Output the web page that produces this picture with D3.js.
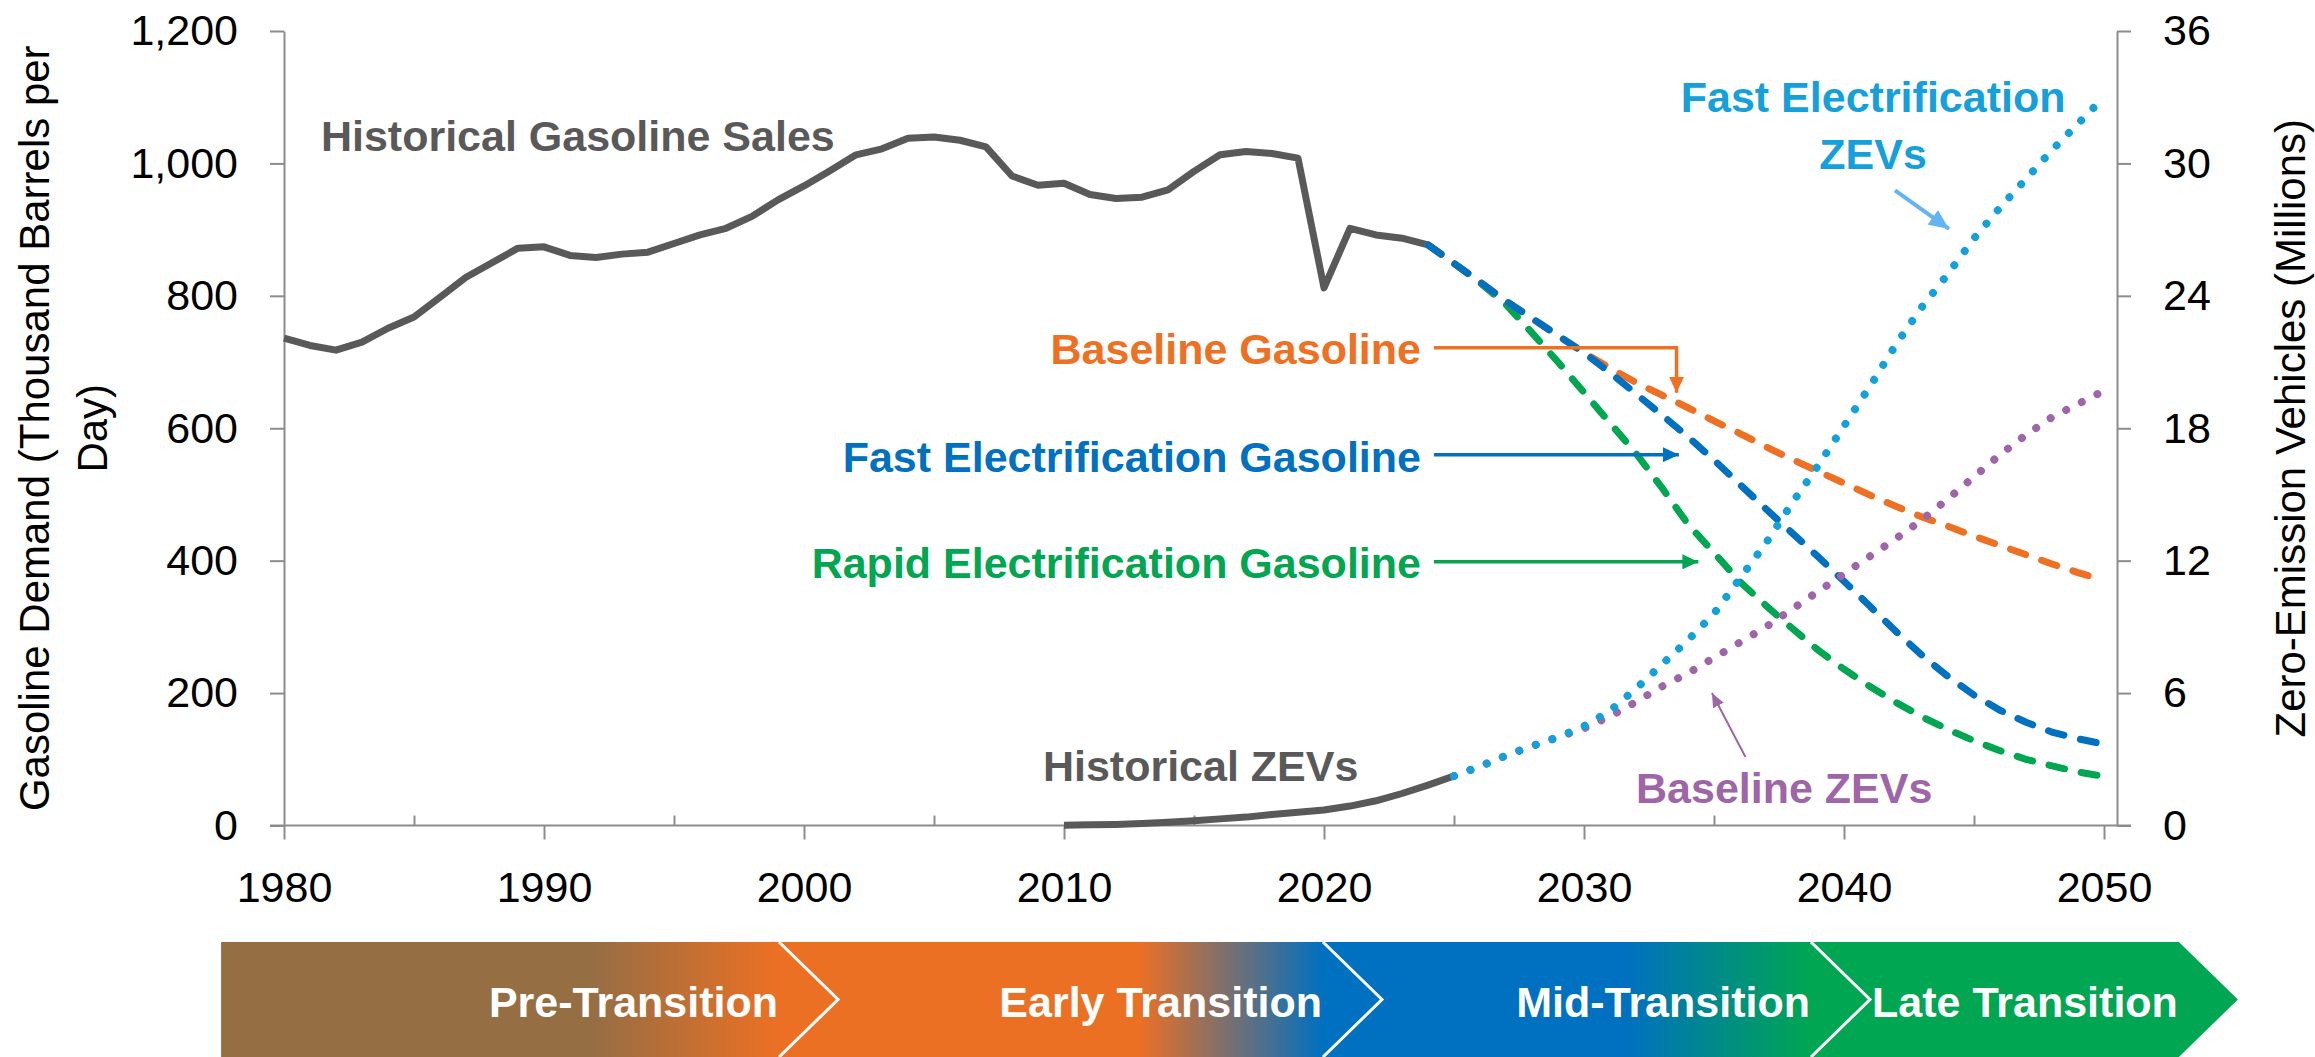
<!DOCTYPE html>
<html>
<head>
<meta charset="utf-8">
<script src="https://cdn.jsdelivr.net/npm/d3@7"></script>
<style>
  body { margin: 0; background: #fff; }
  text { font-family: "Liberation Sans", Arial, sans-serif; }
</style>
</head>
<body>
<svg id="chart" width="2315" height="1057"></svg>
<script>
// historical gasoline sales, thousand barrels per day (1980-2024)
const histYears = d3.range(1980, 2025);
const histGasoline = [736, 725, 718, 730, 751, 768, 798, 828, 850, 872,
  874, 861, 858, 863, 866, 879, 892, 902, 920, 945,
  966, 989, 1013, 1022, 1038, 1040, 1035, 1025, 981, 967,
  970, 953, 947, 949, 960, 988, 1013, 1018, 1015, 1008,
  812, 902, 892, 887, 877];

// gasoline scenarios (2024-2050)
const projYears = d3.range(2024, 2051);
const baselineGasoline = [877, 849, 821, 792, 766, 740, 714, 691, 669, 650,
  631, 611, 592, 572, 553, 535, 517, 499, 482, 466,
  452, 437, 423, 409, 395, 382, 370];
const fastGasoline = [877, 849, 821, 792, 766, 740, 714, 684, 652, 620,
  587, 552, 515, 478, 442, 406, 369, 331, 293, 257,
  225, 197, 174, 156, 141, 131, 123];
const rapidGasoline = [877, 849, 820, 787, 744, 700, 654, 608, 562, 510,
  455, 412, 368, 332, 298, 265, 236, 210, 186, 164,
  145, 128, 113, 100, 90, 81, 74];

// zero emission vehicles, millions
const histZevYears = d3.range(2010, 2026);
const histZevs = [0.01, 0.03, 0.05, 0.09, 0.15, 0.22, 0.3, 0.38, 0.5, 0.6,
  0.7, 0.88, 1.12, 1.45, 1.83, 2.24];
const zevYears = d3.range(2025, 2051);
const fastZevs = [2.24, 2.68, 3.17, 3.6, 4.0, 4.5, 5.2, 6.2, 7.3, 8.4,
  9.6, 11.2, 12.8, 14.6, 16.3, 18.1, 19.9, 21.8, 23.5, 25.0,
  26.6, 28.0, 29.3, 30.6, 31.8, 33.0];
const baselineZevs = [2.24, 2.68, 3.17, 3.6, 4.0, 4.4, 4.95, 5.6, 6.3, 6.9,
  7.6, 8.3, 9.0, 9.8, 10.6, 11.4, 12.2, 13.0, 13.85, 14.8,
  15.8, 16.8, 17.7, 18.5, 19.1, 19.7];

// axis ticks
const leftTicks = [0, 200, 400, 600, 800, 1000, 1200];
const rightTicks = [0, 6, 12, 18, 24, 30, 36];
const majorYears = [1980, 1990, 2000, 2010, 2020, 2030, 2040, 2050];
const minorYears = [1985, 1995, 2005, 2015, 2025, 2035, 2045];

// transition phases along the bottom (boundaries in years)
const phases = ["Pre-Transition", "Early Transition", "Mid-Transition", "Late Transition"];
const phaseBounds = [1977.58, 1999.04, 2019.96, 2038.73, 2052.88];
const phaseColors = ["#966E44", "#EC7023", "#0070C0", "#00A651"];

const gray = "#595959", orange = "#EE7023", blue = "#0070C0", green = "#00A650",
  lightBlue = "#14A0DB", purple = "#9E65A8", axisGray = "#8C8C8C";

const svg = d3.select("#chart");

const x = d3.scaleLinear().domain([1980, 2050.5]).range([284, 2117]);
const yL = d3.scaleLinear().domain([0, 1200]).range([825.5, 31]);
const yR = d3.scaleLinear().domain([0, 36]).range([825.5, 31]);

// ---- axes
const axisG = svg.append("g");

const left = axisG.append("g")
  .attr("transform", `translate(${x(1980)},0)`)
  .call(d3.axisLeft(yL).tickValues(leftTicks).tickFormat(d3.format(","))
    .tickSize(14).tickSizeOuter(0).tickPadding(32));

const right = axisG.append("g")
  .attr("transform", `translate(${x.range()[1]},0)`)
  .call(d3.axisRight(yR).tickValues(rightTicks).tickSize(14).tickSizeOuter(0).tickPadding(32));

const bottom = axisG.append("g")
  .attr("transform", `translate(0,${yL(0)})`)
  .call(d3.axisBottom(x).tickValues(majorYears).tickFormat(d3.format("d"))
    .tickSize(14).tickSizeOuter(0).tickPadding(32));
bottom.select(".domain").remove();

const minor = axisG.append("g")
  .attr("transform", `translate(0,${yL(0)})`)
  .call(d3.axisBottom(x).tickValues(minorYears).tickFormat("").tickSize(-10));
minor.select(".domain").remove();

axisG.append("line")
  .attr("x1", x(1980) - 14).attr("x2", x.range()[1] + 14)
  .attr("y1", yL(0)).attr("y2", yL(0));

axisG.selectAll("path.domain, line")
  .attr("stroke", axisGray).attr("stroke-width", 2);
axisG.selectAll("text")
  .attr("fill", "#000").style("font-size", "43px")
  .style("font-family", "'Liberation Sans', Arial, sans-serif");

// axis titles
const lt = svg.append("g").attr("transform", `translate(0,${(yL(0) + yL(1200)) / 2}) rotate(-90)`);
lt.append("text").attr("y", 49).attr("text-anchor", "middle")
  .style("font-size", "42px").text("Gasoline Demand (Thousand Barrels per");
lt.append("text").attr("y", 107).attr("text-anchor", "middle")
  .style("font-size", "42px").text("Day)");
svg.append("g").attr("transform", `translate(0,${(yR(0) + yR(36)) / 2}) rotate(-90)`)
  .append("text").attr("y", 2305).attr("text-anchor", "middle")
  .style("font-size", "42px").text("Zero-Emission Vehicles (Millions)");

// ---- series
const plot = svg.append("g");
const lineL = d3.line().x(d => x(d[0])).y(d => yL(d[1]));
const lineR = d3.line().x(d => x(d[0])).y(d => yR(d[1]));

plot.append("path").datum(d3.zip(histYears, histGasoline))
  .attr("d", lineL).attr("fill", "none").attr("stroke", gray)
  .attr("stroke-width", 7).attr("stroke-linejoin", "round");

[[rapidGasoline, green], [baselineGasoline, orange], [fastGasoline, blue]].forEach(([vals, c]) => {
  plot.append("path").datum(d3.zip(projYears, vals))
    .attr("d", lineL).attr("fill", "none").attr("stroke", c)
    .attr("stroke-width", 7).attr("stroke-linecap", "round")
    .attr("stroke-dasharray", "16 17");
});

plot.append("path").datum(d3.zip(histZevYears, histZevs))
  .attr("d", lineR).attr("fill", "none").attr("stroke", gray)
  .attr("stroke-width", 7).attr("stroke-linejoin", "round");

[[baselineZevs, purple], [fastZevs, lightBlue]].forEach(([vals, c]) => {
  plot.append("path").datum(d3.zip(zevYears, vals))
    .attr("d", lineR).attr("fill", "none").attr("stroke", c)
    .attr("stroke-width", 8).attr("stroke-linecap", "round")
    .attr("stroke-dasharray", "0.01 17.5");
});

// ---- annotations (positions in data units)
const defs = svg.append("defs");
function marker(id, c, w, h) {
  defs.append("marker").attr("id", id)
    .attr("markerUnits", "userSpaceOnUse")
    .attr("viewBox", `0 0 ${w} ${h}`)
    .attr("markerWidth", w).attr("markerHeight", h)
    .attr("refX", w).attr("refY", h / 2).attr("orient", "auto")
    .append("path").attr("d", `M0,0L${w},${h / 2}L0,${h}Z`).attr("fill", c);
}
marker("ao", orange, 16, 15);
marker("ab", blue, 16, 15);
marker("ag", green, 16, 15);
marker("al", "#62B5F2", 20, 18);
marker("ap", purple, 14, 12);

const labels = [
  { t: "Historical Gasoline Sales", c: gray, yr: 1981.42, v: yL.invert(151), a: "start" },
  { t: "Historical ZEVs", c: gray, yr: 2009.19, v: yL.invert(781), a: "start" },
  { t: "Baseline Gasoline", c: orange, yr: 2023.73, v: 697.5, a: "end" },
  { t: "Fast Electrification Gasoline", c: blue, yr: 2023.73, v: 534.3, a: "end" },
  { t: "Rapid Electrification Gasoline", c: green, yr: 2023.73, v: 374, a: "end" },
  { t: "Fast Electrification", c: lightBlue, yr: 2041.12, v: yL.invert(111.7), a: "middle" },
  { t: "ZEVs", c: lightBlue, yr: 2041.12, v: yL.invert(169), a: "middle" },
  { t: "Baseline ZEVs", c: purple, yr: 2032.0, v: yL.invert(803), a: "start" }
];
svg.append("g").selectAll("text").data(labels).join("text")
  .attr("x", d => x(d.yr)).attr("y", d => yL(d.v))
  .attr("text-anchor", d => d.a).attr("fill", d => d.c)
  .style("font-size", "43px").style("font-weight", "bold").text(d => d.t);

// arrows: left-axis points [year, value]
const arrowsL = [
  { pts: [[2024.23, 721.6], [2033.56, 721.6], [2033.56, 653.6]], c: orange, m: "ao", w: 3.5 },
  { pts: [[2024.23, 560], [2033.65, 560]], c: blue, m: "ab", w: 3.5 },
  { pts: [[2024.23, 398.2], [2034.4, 398.2]], c: green, m: "ag", w: 3.5 }
];
// right-axis points [year, millions]
const arrowsR = [
  { pts: [[2041.96, 28.78], [2044.04, 27.03]], c: "#62B5F2", m: "al", w: 4 },
  { pts: [[2036.21, 3.1], [2034.92, 6.0]], c: purple, m: "ap", w: 2 }
];
const arrowG = svg.append("g");
arrowsL.forEach(a => arrowG.append("path").attr("d", lineL(a.pts)).attr("fill", "none")
  .attr("stroke", a.c).attr("stroke-width", a.w).attr("marker-end", `url(#${a.m})`));
arrowsR.forEach(a => arrowG.append("path").attr("d", lineR(a.pts)).attr("fill", "none")
  .attr("stroke", a.c).attr("stroke-width", a.w).attr("marker-end", `url(#${a.m})`));

// ---- transition banner
const bTop = 942, bBot = 1057, bMid = (bTop + bBot) / 2, notch = 59, fade = 185;
const bx0 = x(phaseBounds[0]), bx1 = x(phaseBounds[4]) + notch;
const grad = defs.append("linearGradient").attr("id", "bannerGrad")
  .attr("gradientUnits", "userSpaceOnUse")
  .attr("x1", bx0).attr("x2", bx1).attr("y1", 0).attr("y2", 0);
const off = px => (px - bx0) / (bx1 - bx0);
grad.append("stop").attr("offset", 0).attr("stop-color", phaseColors[0]);
for (let i = 1; i < phases.length; i++) {
  const b = x(phaseBounds[i]);
  grad.append("stop").attr("offset", off(b - fade)).attr("stop-color", phaseColors[i - 1]);
  grad.append("stop").attr("offset", off(b)).attr("stop-color", phaseColors[i]);
}
grad.append("stop").attr("offset", 1).attr("stop-color", phaseColors[3]);

const xe = x(phaseBounds[4]);
svg.append("path")
  .attr("d", `M${bx0},${bTop}L${xe},${bTop}L${xe + notch},${bMid}L${xe},${bBot}L${bx0},${bBot}Z`)
  .attr("fill", "url(#bannerGrad)");

svg.append("g").selectAll("path").data(phaseBounds.slice(1, 4)).join("path")
  .attr("d", d => `M${x(d)},${bTop}L${x(d) + notch},${bMid}L${x(d)},${bBot}`)
  .attr("fill", "none").attr("stroke", "#fff").attr("stroke-width", 3);

svg.append("g").selectAll("text").data(phases).join("text")
  .attr("x", (d, i) => x(phaseBounds[i + 1]) - 1).attr("y", 1017)
  .attr("text-anchor", "end").attr("fill", "#fff")
  .style("font-size", "43px").style("font-weight", "bold").text(d => d);
</script>
</body>
</html>
